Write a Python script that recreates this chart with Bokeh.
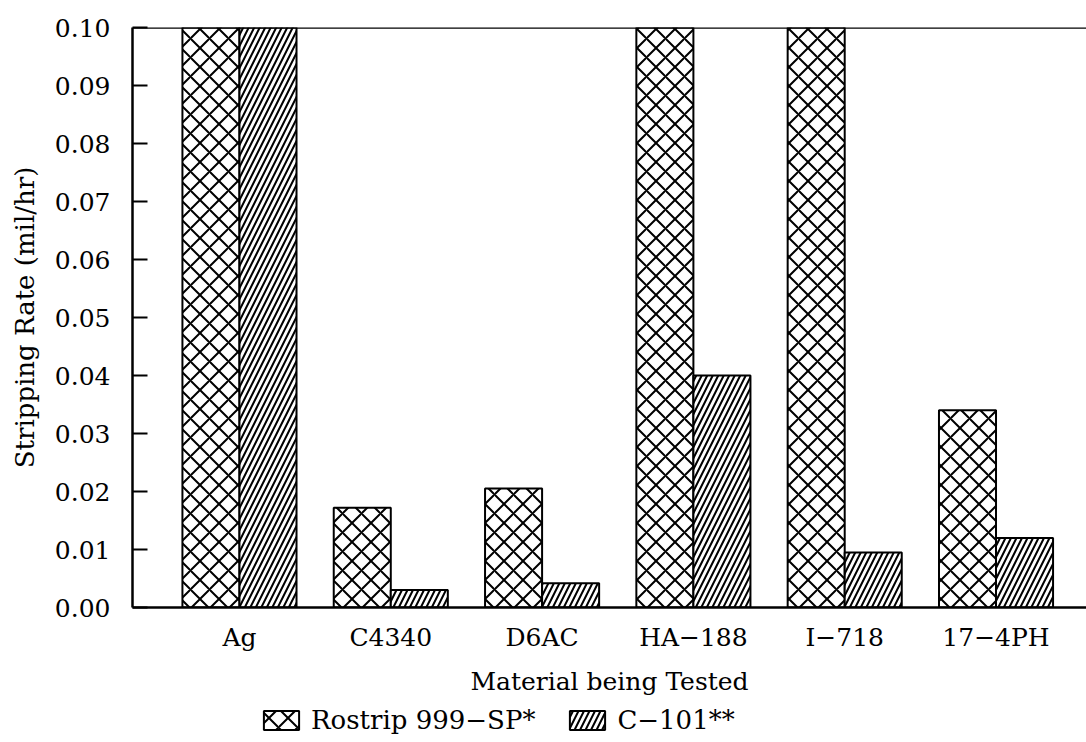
from bokeh.plotting import figure
from bokeh.layouts import column
from bokeh.models import (Range1d, FixedTicker, Span, Legend, LegendItem,
                          ColumnDataSource, PrintfTickFormatter)
from bokeh.transform import dodge
from bokeh.embed import file_html
from bokeh.resources import INLINE

# ---- data (bars reaching the top are clipped at 0.10) ----
materials = ["Ag", "C4340", "D6AC", "HA\u2212188", "I\u2212718", "17\u22124PH"]
rostrip = [0.10, 0.0172, 0.0205, 0.10, 0.10, 0.0340]
c101 = [0.10, 0.0030, 0.0042, 0.0400, 0.0095, 0.0120]
series_names = ["Rostrip 999\u2212SP*", "C\u2212101**"]
y_ticks = [0.00, 0.01, 0.02, 0.03, 0.04, 0.05, 0.06, 0.07, 0.08, 0.09, 0.10]
x_label = "Material being Tested"
y_label = "Stripping Rate (mil/hr)"

FONT = "DejaVu Serif"
bw = 0.377
style1 = dict(fill_color="white", line_color="black", line_width=2,
              hatch_pattern="x", hatch_scale=19, hatch_weight=2, hatch_color="black")
style2 = dict(fill_color="white", line_color="black", line_width=2,
              hatch_pattern="/", hatch_scale=11, hatch_weight=2, hatch_color="black")

src = ColumnDataSource(dict(idx=list(range(len(materials))), rostrip=rostrip, c101=c101))

# ---------------- main chart ----------------
p = figure(frame_width=954, frame_height=580,
           x_range=Range1d(-0.707, 5.598), y_range=Range1d(y_ticks[0], y_ticks[-1]),
           output_backend="svg", toolbar_location=None,
           min_border_left=132, min_border_right=0, min_border_top=27, min_border_bottom=0)
p.outline_line_color = None
p.xgrid.visible = False
p.ygrid.visible = False

r1 = p.vbar(x=dodge("idx", -bw / 2, range=p.x_range), top="rostrip", bottom=0, width=bw,
            source=src, **style1)
r2 = p.vbar(x=dodge("idx", bw / 2, range=p.x_range), top="c101", bottom=0, width=bw,
            source=src, **style2)

# top frame line
p.add_layout(Span(location=y_ticks[-1], dimension="width", line_color="black", line_width=2.5))

ya = p.yaxis[0]
ya.ticker = FixedTicker(ticks=y_ticks)
ya.formatter = PrintfTickFormatter(format="%.2f")
ya.major_tick_in = 15
ya.major_tick_out = 0
ya.major_tick_line_width = 2
ya.minor_tick_line_color = None
ya.axis_line_width = 2.5
ya.major_label_standoff = 22
ya.major_label_text_font = FONT
ya.major_label_text_font_size = "25px"
ya.major_label_text_color = "black"
ya.axis_label = y_label
ya.axis_label_text_font = FONT
ya.axis_label_text_font_size = "26px"
ya.axis_label_text_font_style = "normal"
ya.axis_label_text_color = "black"
ya.axis_label_standoff = 12

xa = p.xaxis[0]
xa.ticker = FixedTicker(ticks=list(range(len(materials))))
xa.major_label_overrides = {i: m for i, m in enumerate(materials)}
xa.major_tick_line_color = None
xa.major_tick_in = 0
xa.major_tick_out = 0
xa.minor_tick_line_color = None
xa.axis_line_width = 2.5
xa.major_label_standoff = 15
xa.major_label_text_font = FONT
xa.major_label_text_font_size = "25px"
xa.major_label_text_color = "black"
xa.axis_label = x_label
xa.axis_label_text_font = FONT
xa.axis_label_text_font_size = "25px"
xa.axis_label_text_font_style = "normal"
xa.axis_label_text_color = "black"
xa.axis_label_standoff = 12

# ---------------- legend strip below ----------------
p2 = figure(width=1086, height=40, x_range=p.x_range, y_range=Range1d(100, 101),
            x_axis_type=None, y_axis_type=None, output_backend="svg", toolbar_location=None,
            min_border_left=0, min_border_right=0, min_border_top=0, min_border_bottom=0)
p2.outline_line_color = None
p2.xgrid.visible = False
p2.ygrid.visible = False
# same series, hidden here: only their legend glyphs are shown
l1 = p2.vbar(x=dodge("idx", -bw / 2, range=p2.x_range), top="rostrip", bottom=0, width=bw,
             source=src, **style1)
l2 = p2.vbar(x=dodge("idx", bw / 2, range=p2.x_range), top="c101", bottom=0, width=bw,
             source=src, **style2)
l1.visible = False
l2.visible = False

legend = Legend(items=[LegendItem(label=series_names[0], renderers=[l1]),
                       LegendItem(label=series_names[1], renderers=[l2])],
                orientation="horizontal", location=(127, 3),
                glyph_width=44, glyph_height=24, label_standoff=8, spacing=30,
                padding=3, margin=0, border_line_color=None, background_fill_alpha=0,
                inactive_fill_alpha=0)
legend.label_text_font = FONT
legend.label_text_font_size = "26px"
legend.label_text_font_style = "normal"
legend.label_text_color = "black"
p2.add_layout(legend)

layout = column(p, p2, spacing=0)
open("out.html", "w").write(file_html(layout, INLINE))
